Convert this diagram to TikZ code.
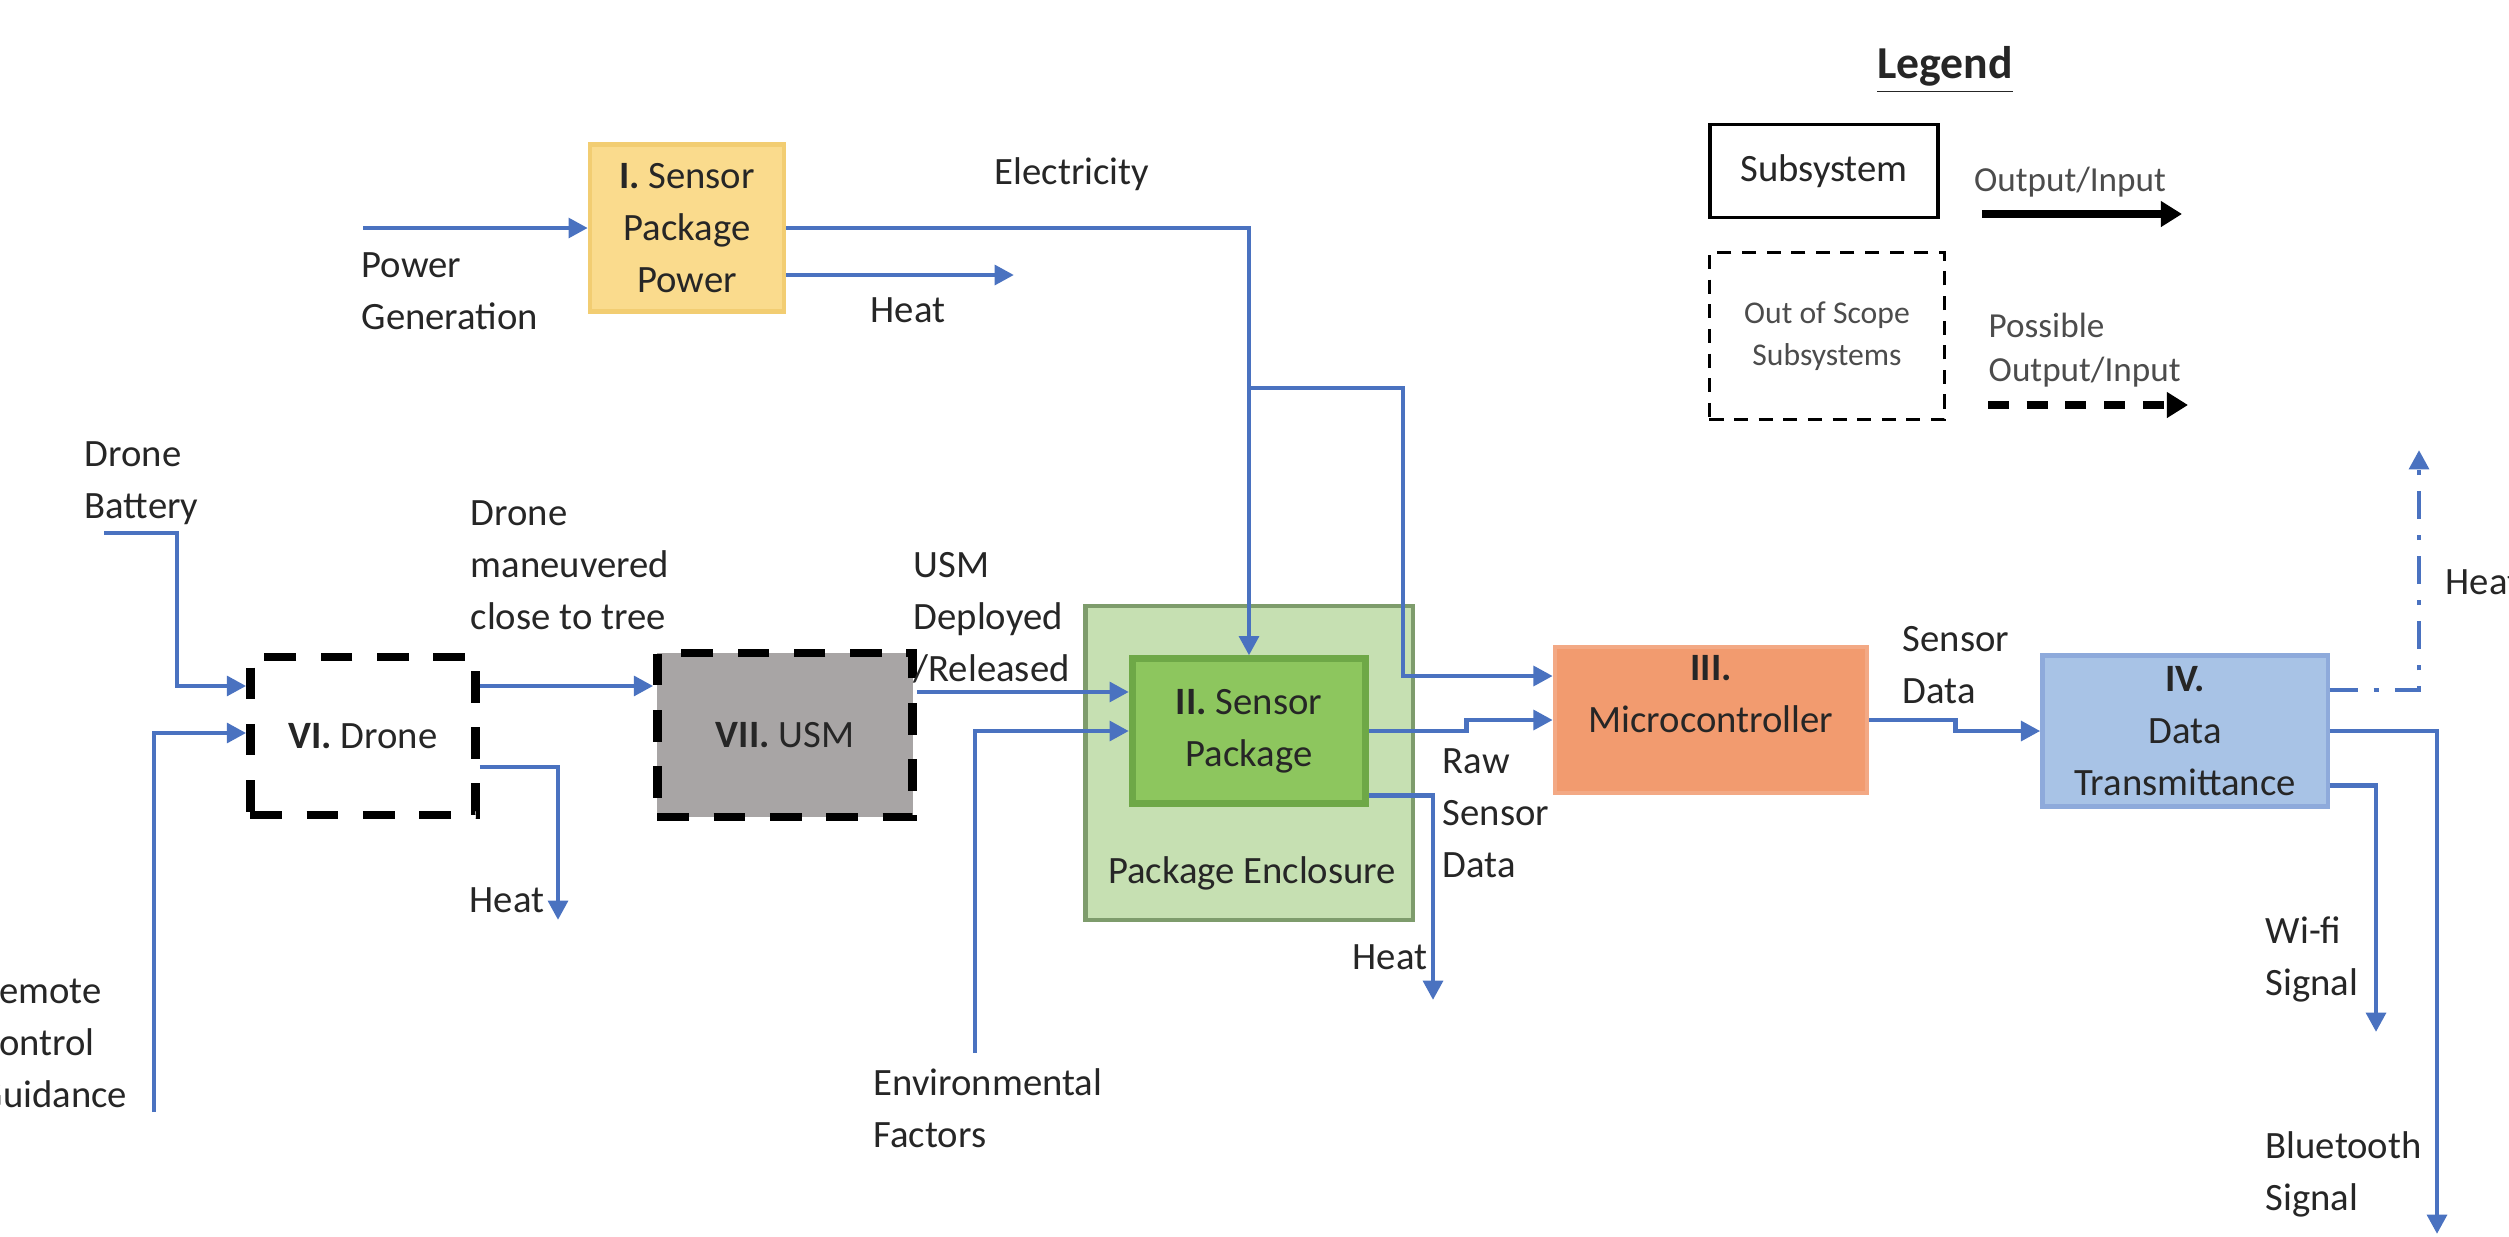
\documentclass[tikz,border=0pt]{standalone}
\usepackage{fontspec}
\setmainfont{Carlito}
\usepackage{tikz}
\usetikzlibrary{arrows.meta}
\definecolor{flowblue}{HTML}{4A72C0}
\definecolor{powfill}{HTML}{FADB8D}
\definecolor{powline}{HTML}{F2CD72}
\definecolor{encfill}{HTML}{C6E0B2}
\definecolor{encline}{HTML}{7E9C6C}
\definecolor{spfill}{HTML}{8DC65E}
\definecolor{spline}{HTML}{6EA847}
\definecolor{mcfill}{HTML}{F29B6F}
\definecolor{mcline}{HTML}{F3A985}
\definecolor{dtfill}{HTML}{A8C3E6}
\definecolor{dtline}{HTML}{8EAADB}
\definecolor{usmfill}{HTML}{A8A5A5}

\begin{document}
\begin{tikzpicture}[x=0.01cm, y=-0.01cm,
  every node/.style={font=\fontsize{11}{14.8}\selectfont, text=black!85, inner sep=0pt},
  box/.style={draw, line width=1.2pt, align=center},
  oos/.style={draw=black, line width=2.4pt, dash pattern=on 9pt off 7pt, align=center},
  flow/.style={draw=flowblue, line width=1.4pt, -{Triangle[length=5.5pt,width=5.5pt]}},
  txt/.style={align=left, anchor=west},
  small/.style={font=\fontsize{10}{12.5}\selectfont, text=black!70}]
\useasboundingbox (0,0) rectangle (2509,1236);

\node[box, fill=powfill, draw=powline, minimum width=1.94cm, minimum height=1.67cm] (power) at (687,228) {\textbf{I.} Sensor\\Package\\Power};
\node[oos, fill=white, minimum width=2.25cm, minimum height=1.58cm] (drone) at (363,736) {\textbf{VI.} Drone};
\node[oos, fill=usmfill, minimum width=2.55cm, minimum height=1.64cm] (usm) at (785,735) {\textbf{VII.} USM};
\node[box, fill=encfill, draw=encline, minimum width=3.27cm, minimum height=3.14cm] (encl) at (1249,763) {};
\node (encltext) at (1252,873) {Package Enclosure};
\node[box, fill=spfill, draw=spline, line width=2pt, minimum width=2.33cm, minimum height=1.44cm] (sensor) at (1249,731) {\textbf{II.} Sensor\\Package};
\node[box, fill=mcfill, draw=mcline, minimum width=3.12cm, minimum height=1.46cm] (micro) at (1711,720) {\textbf{III.}\\Microcontroller\\\mbox{}};
\node[box, fill=dtfill, draw=dtline, minimum width=2.85cm, minimum height=1.51cm] (trans) at (2185,731) {\textbf{IV.}\\Data\\Transmittance};

\node[font=\fontsize{13}{16}\selectfont\bfseries] (legend) at (1945,70) {\underline{Legend}};
\node[box, draw=black, line width=1pt, minimum width=2.28cm, minimum height=0.93cm] (sub) at (1824,171) {Subsystem};
\node[draw=black, line width=0.9pt, dash pattern=on 4pt off 3pt, minimum width=2.35cm, minimum height=1.67cm, align=center, font=\fontsize{9}{12}\selectfont, text=black!70] (oosbox) at (1827,336) {Out of Scope\\Subsystems};
\node[small] (outin) at (2070,182) {Output/Input};
\node[small, txt] (posoi) at (1988,350) {Possible\\Output/Input};
\coordinate (sa) at (1982,214);
\coordinate (sb) at (2182,214);
\coordinate (da) at (1988,405);
\coordinate (db) at (2188,405);
\draw[line width=2.3pt, -{Triangle[length=6pt,width=7pt]}] (sa) -- (sb);
\draw[line width=2.3pt, dash pattern=on 6pt off 5pt, -{Triangle[length=6pt,width=7pt]}] (da) -- (db);

\coordinate (pg) at (363,228);
\coordinate (br) at (1249,388);
\coordinate (brk) at (1403,676);
\coordinate (ph) at (1014,275);
\coordinate (bat) at (104,533);
\coordinate (rc) at (154,1112);
\coordinate (dh) at (558,920);
\coordinate (env) at (975,1053);
\coordinate (sh) at (1433,1000);
\coordinate (th) at (2419,450);
\coordinate (wifi) at (2376,1032);
\coordinate (bt) at (2437,1234);

\draw[flow] (pg) -- (power);
\draw[flow] (power.east) -| (sensor.north);
\draw[flow] (br) -| (brk) -- (brk -| micro.west);
\draw[flow] (ph -| power.east) -- (ph);
\draw[flow] (bat) -- ++(73,0) |- ([yshift=0.5cm]drone.west);
\draw[flow] (rc) |- ([yshift=0.03cm]drone.west);
\draw[flow] ([yshift=0.5cm]drone.east) -- ([yshift=0.5cm]drone.east -| usm.west);
\draw[flow] ([yshift=-0.31cm]drone.east) -| (dh);
\draw[flow] ([yshift=0.43cm]usm.east) -- ([yshift=0.43cm]usm.east -| sensor.west);
\draw[flow] (env) |- (sensor.west);
\draw[flow] (sensor.east) -- ++(97,0) |- (micro.west);
\draw[flow] ([yshift=-0.64cm]sensor.east) -| (sh);
\draw[flow] (micro.east) -- ++(86,0) |- (trans.west);
\draw[flow, dash pattern=on 8pt off 4.5pt on 1.5pt off 4.5pt] ([yshift=0.41cm]trans.east) -| (th);
\draw[flow] ([yshift=-0.54cm]trans.east) -| (wifi);
\draw[flow] (trans.east) -| (bt);

\node[txt] (powgen) at (361,291) {Power\\Generation};
\node (elec) at (1072,174) {Electricity};
\node (powheat) at (908,310) {Heat};
\node[txt] (battery) at (84,483) {Drone\\Battery};
\node[txt] (remote) at (-22,1043) {Remote\\Control\\Guidance};
\node[txt] (manv) at (470,565) {Drone\\maneuvered\\close to tree};
\node[anchor=east] (droneheat) at (545,900) {Heat};
\node[txt] (deploy) at (913,618) {USM\\Deployed\\/Released};
\node[txt] (envf) at (873,1108) {Environmental\\Factors};
\node[txt] (raw) at (1442,813) {Raw\\Sensor\\Data};
\node[anchor=east] (spheat) at (1428,957) {Heat};
\node[txt] (sdata) at (1902,665) {Sensor\\Data};
\node[txt] (tranheat) at (2445,582) {Heat};
\node[txt] (wifil) at (2265,959) {Wi-fi\\Signal};
\node[txt] (btl) at (2265,1174) {Bluetooth\\Signal};
\end{tikzpicture}
\end{document}
